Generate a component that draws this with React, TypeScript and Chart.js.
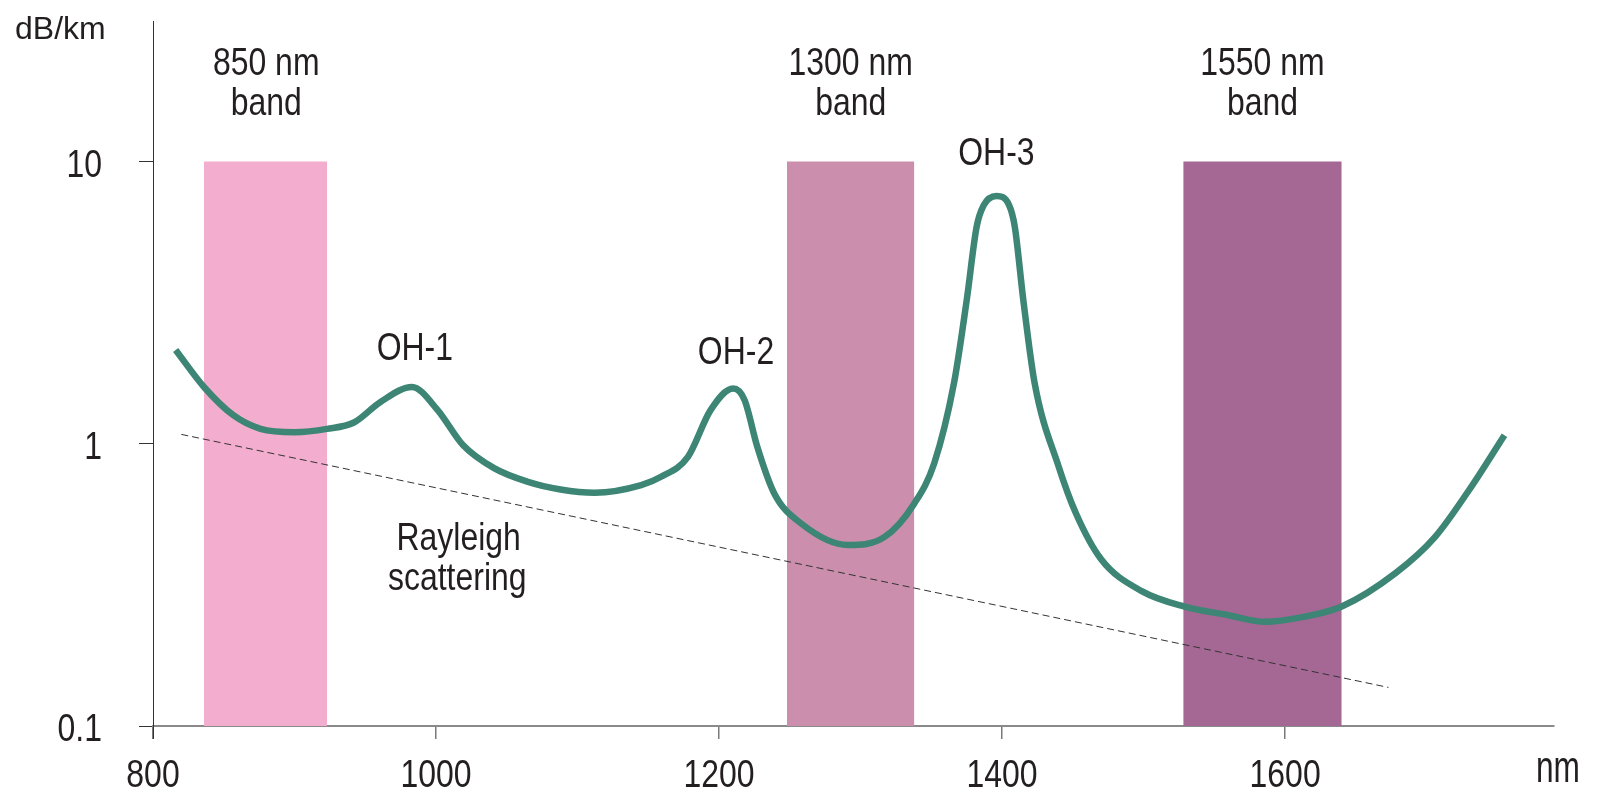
import React, { useEffect, useRef } from "react";
import { Chart, registerables } from "chart.js";

Chart.register(...registerables);

// ---- data ----
const wavelengthNm = [
  816, 836, 857, 876, 900, 923, 942, 961, 983, 1001, 1019, 1041, 1065, 1088, 1112, 1145,
  1159, 1178, 1194, 1210, 1218, 1227, 1239, 1258, 1291, 1317, 1338, 1352, 1366, 1375,
  1382, 1387, 1396, 1405, 1409, 1415, 1423, 1440, 1452, 1470, 1499, 1529, 1560, 1586, 1612, 1640,
  1678, 1706, 1730, 1755,
];
const attenuationDb = [
  2.15, 1.59, 1.26, 1.13, 1.1, 1.13, 1.19, 1.41, 1.59, 1.32, 0.99, 0.82, 0.733, 0.689, 0.671, 0.714,
  0.764, 0.899, 1.316, 1.57, 1.43, 0.976, 0.667, 0.522, 0.438, 0.468, 0.615, 0.852, 1.64, 3.23,
  5.87, 7.0, 7.55, 7.0, 5.87, 3.23, 1.64, 0.83, 0.57, 0.39, 0.3, 0.265, 0.247, 0.234, 0.243, 0.265,
  0.348, 0.468, 0.686, 1.073,
];
const rayleighNm = [820, 1673];
const rayleighDb = [1.08, 0.137];

const bandStart = [836, 1248, 1528];
const bandEnd = [923, 1338, 1640];
const bandTop = [10, 10, 10];
const bandColors = ["#F3ADCE", "#CB8FAD", "#A56895"];

const xTickValues = [800, 1000, 1200, 1400, 1600];
const yTickValues = [0.1, 1, 10];
const yTickLabels = ["0.1", "1", "10"];

const labelTexts = ["850 nm", "band", "1300 nm", "band", "1550 nm", "band", "OH-1", "OH-2", "OH-3", "Rayleigh", "scattering"];
const labelNm = [880, 880, 1293, 1293, 1584, 1584, 985, 1212, 1396, 1016, 1015];
const labelDb = [20.3, 14.6, 20.3, 14.6, 20.3, 14.6, 1.98, 1.92, 9.71, 0.42, 0.303];

// ---- styles ----
const SANS = "'Liberation Sans', Arial, sans-serif";
const TEXT = "#231F20";
const CURVE = "#3D8574";
const FONT_SIZE = 38.5;
const NARROW_SCALE = 0.83;

function drawNarrow(ctx: CanvasRenderingContext2D, text: string, x: number, y: number, align: CanvasTextAlign, size = FONT_SIZE, sx = NARROW_SCALE) {
  ctx.save();
  ctx.translate(x, y);
  ctx.scale(sx, 1);
  ctx.font = `${size}px ${SANS}`;
  ctx.textAlign = align;
  ctx.textBaseline = "alphabetic";
  ctx.fillText(text, 0, 0);
  ctx.restore();
}

const labelPlugin = {
  id: "textLabels",
  afterDatasetsDraw(chart: any) {
    const { ctx, scales } = chart;
    const x = scales.x;
    const y = scales.y;
    ctx.save();
    ctx.fillStyle = TEXT;
    // annotations
    labelTexts.forEach((t, i) => {
      drawNarrow(ctx, t, x.getPixelForValue(labelNm[i]), y.getPixelForValue(labelDb[i]), "center");
    });
    // x tick labels
    x.ticks.forEach((t: any) => {
      drawNarrow(ctx, String(t.value), x.getPixelForValue(t.value), x.top + 61, "center");
    });
    // y tick labels
    yTickValues.forEach((v, i) => {
      drawNarrow(ctx, yTickLabels[i], y.right - 51, y.getPixelForValue(v) + 15, "right");
    });
    // y axis continues below the x axis
    ctx.strokeStyle = "#333333";
    ctx.lineWidth = 1;
    ctx.beginPath();
    ctx.moveTo(Math.round(y.right) + 0.5, x.top);
    ctx.lineTo(Math.round(y.right) + 0.5, x.top + 13);
    ctx.stroke();
    // unit labels
    drawNarrow(ctx, "nm", 1558, 782, "center", 44, 0.72);
    ctx.font = `32px ${SANS}`;
    ctx.textAlign = "left";
    ctx.textBaseline = "alphabetic";
    ctx.fillText("dB/km", 15, 39);
    ctx.restore();
  },
};

export default function App() {
  const canvasRef = useRef<HTMLCanvasElement | null>(null);

  useEffect(() => {
    const canvas = canvasRef.current;
    if (!canvas) return;

    const bandDatasets = bandStart.map((s, i) => ({
      type: "line" as const,
      data: [
        { x: s, y: bandTop[i] },
        { x: bandEnd[i], y: bandTop[i] },
      ],
      borderWidth: 0,
      borderColor: "rgba(0,0,0,0)",
      backgroundColor: bandColors[i],
      fill: "start",
      pointRadius: 0,
      order: 3,
    }));

    const chart = new Chart(canvas, {
      type: "line",
      data: {
        datasets: [
          {
            data: wavelengthNm.map((w, i) => ({ x: w, y: attenuationDb[i] })),
            borderColor: CURVE,
            borderWidth: 6.5,
            pointRadius: 0,
            cubicInterpolationMode: "monotone",
            fill: false,
            order: 1,
          },
          {
            data: rayleighNm.map((w, i) => ({ x: w, y: rayleighDb[i] })),
            borderColor: "#333333",
            borderWidth: 1,
            borderDash: [7, 4],
            pointRadius: 0,
            fill: false,
            order: 2,
          },
          ...bandDatasets,
        ] as any,
      },
      options: {
        responsive: false,
        animation: false,
        devicePixelRatio: 1,
        layout: { padding: { top: 21, right: 43, left: 0, bottom: 0 } },
        plugins: {
          legend: { display: false },
          tooltip: { enabled: false },
        },
        scales: {
          x: {
            type: "linear",
            min: 800,
            max: 1790,
            afterBuildTicks: (s: any) => {
              s.ticks = xTickValues.map((v) => ({ value: v }));
            },
            afterFit: (s: any) => {
              s.height = 66;
              s.paddingLeft = 0;
              s.paddingRight = 0;
              s.paddingTop = 0;
              s.paddingBottom = 0;
            },
            ticks: { display: false },
            grid: {
              drawOnChartArea: false,
              drawTicks: true,
              tickLength: 13,
              color: "#7a7a7a",
              lineWidth: 1.5,
            },
            border: { color: "#8a8a8a", width: 2 },
          },
          y: {
            type: "logarithmic",
            min: 0.1,
            max: 31.5,
            afterBuildTicks: (s: any) => {
              s.ticks = yTickValues.map((v) => ({ value: v }));
            },
            afterFit: (s: any) => {
              s.width = 153;
              s.paddingLeft = 0;
              s.paddingRight = 0;
              s.paddingTop = 0;
              s.paddingBottom = 0;
            },
            ticks: { display: false },
            grid: {
              drawOnChartArea: false,
              drawTicks: true,
              tickLength: 14,
              color: "#333333",
              lineWidth: 1,
            },
            border: { color: "#333333", width: 1 },
          },
        },
      } as any,
      plugins: [labelPlugin],
    });

    return () => chart.destroy();
  }, []);

  return (
    <div style={{ position: "fixed", left: 0, top: 0, width: 1597, height: 792, background: "#ffffff" }}>
      <canvas ref={canvasRef} width={1597} height={792} style={{ display: "block" }} />
    </div>
  );
}
